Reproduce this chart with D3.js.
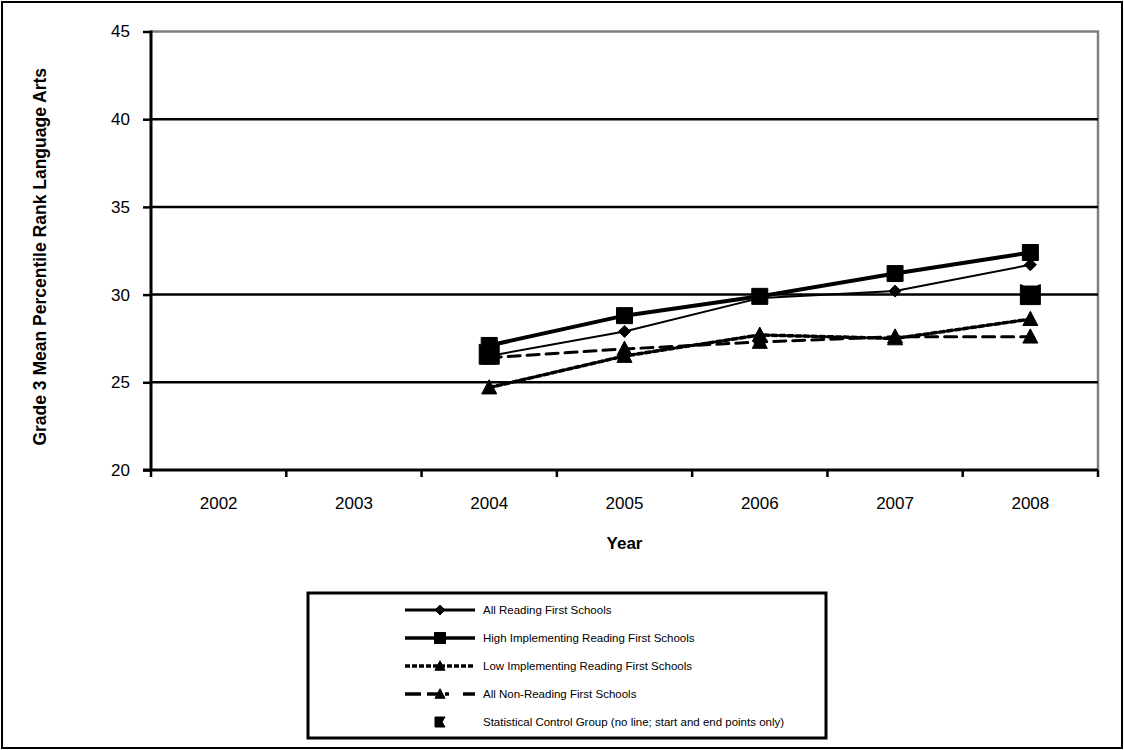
<!DOCTYPE html>
<html>
<head>
<meta charset="utf-8">
<script src="https://cdn.jsdelivr.net/npm/d3@7"></script>
<style>
  html, body { margin: 0; padding: 0; background: #fff; }
  svg { display: block; font-family: "Liberation Sans", Arial, sans-serif; }
</style>
</head>
<body>
<svg id="chart" width="1124" height="750"></svg>
<script>
// Years on the category axis
const years = ["2002", "2003", "2004", "2005", "2006", "2007", "2008"];
// Grade 3 mean percentile rank, language arts (null = no data)
const allRF     = [null, null, 26.5, 27.9, 29.8, 30.2, 31.7];
const highRF    = [null, null, 27.1, 28.8, 29.9, 31.2, 32.4];
const lowRF     = [null, null, 24.7, 26.5, 27.7, 27.5, 28.6];
const nonRF     = [null, null, 26.4, 26.9, 27.3, 27.6, 27.6];
const control   = [null, null, 26.6, null, null, null, 30.0];
const yTicks = [20, 25, 30, 35, 40, 45];

const seriesNames = [
  "All Reading First Schools",
  "High Implementing Reading First Schools",
  "Low Implementing Reading First Schools",
  "All Non-Reading First Schools",
  "Statistical Control Group (no line; start and end points only)"
];

const svg = d3.select("#chart");
const W = 1124, H = 750;
const plot = { left: 151, right: 1098, top: 31.5, bottom: 470 };

// outer frame
svg.append("rect").attr("x", 2).attr("y", 2).attr("width", W - 4).attr("height", H - 4)
  .attr("fill", "#fff").attr("stroke", "#000").attr("stroke-width", 2);

const x = d3.scaleBand().domain(years).range([plot.left, plot.right]).padding(0);
const y = d3.scaleLinear().domain([20, 45]).range([plot.bottom, plot.top]);
const cx = d => x(d) + x.bandwidth() / 2;

// plot area border (grey top/right)
svg.append("path")
  .attr("d", `M${plot.left},${plot.top}H${plot.right}V${plot.bottom}`)
  .attr("fill", "none").attr("stroke", "#808080").attr("stroke-width", 2.5);

// horizontal gridlines
svg.append("g").selectAll("line").data(yTicks.filter(t => t > 20 && t < 45)).join("line")
  .attr("x1", plot.left).attr("x2", plot.right)
  .attr("y1", d => y(d)).attr("y2", d => y(d))
  .attr("stroke", "#000").attr("stroke-width", 2.5);

// y axis
const yAxis = svg.append("g").attr("transform", `translate(${plot.left},0)`)
  .call(d3.axisLeft(y).tickValues(yTicks).tickSize(8).tickPadding(13).tickFormat(d3.format("d")));
yAxis.select(".domain").remove();
yAxis.selectAll(".tick line").attr("stroke", "#000").attr("stroke-width", 2.5);
yAxis.selectAll(".tick text").attr("font-size", 17).attr("fill", "#000")
  .attr("font-family", "Liberation Sans, Arial, sans-serif");
svg.append("line").attr("x1", plot.left).attr("x2", plot.left)
  .attr("y1", plot.top - 1).attr("y2", plot.bottom + 1)
  .attr("stroke", "#000").attr("stroke-width", 3);

// x axis: labels centred in bands, ticks on band boundaries
const xAxis = svg.append("g").attr("transform", `translate(0,${plot.bottom})`)
  .call(d3.axisBottom(x).tickSize(0).tickPadding(27));
xAxis.select(".domain").remove();
xAxis.selectAll(".tick text").attr("font-size", 17).attr("fill", "#000")
  .attr("font-family", "Liberation Sans, Arial, sans-serif");
const bounds = years.map(d => x(d)).concat([x.range()[1]]);
svg.append("g").selectAll("line").data(bounds).join("line")
  .attr("x1", d => d).attr("x2", d => d)
  .attr("y1", plot.bottom).attr("y2", plot.bottom + 7)
  .attr("stroke", "#000").attr("stroke-width", 2.5);
svg.append("line").attr("x1", plot.left - 8).attr("x2", plot.right)
  .attr("y1", plot.bottom).attr("y2", plot.bottom)
  .attr("stroke", "#000").attr("stroke-width", 3);

// axis titles
svg.append("text").attr("x", (plot.left + plot.right) / 2).attr("y", 549)
  .attr("text-anchor", "middle").attr("font-size", 17).attr("font-weight", "bold").text("Year");
svg.append("text").attr("transform", `translate(46,${(plot.top + plot.bottom) / 2 + 6}) rotate(-90)`)
  .attr("text-anchor", "middle").attr("font-size", 17.5).attr("font-weight", "bold")
  .text("Grade 3 Mean Percentile Rank Language Arts");

// marker shapes
function markerPath(kind, s) {
  const h = s / 2;
  if (kind === "diamond") return `M0,${-h}L${h},0L0,${h}L${-h},0Z`;
  if (kind === "square") return `M${-h},${-h}H${h}V${h}H${-h}Z`;
  if (kind === "triangle") return `M0,${-h * 1.05}L${h},${h * 0.85}L${-h},${h * 0.85}Z`;
  if (kind === "notched") {
    const n = s * 0.18;
    return `M${-h},${-h}L${-h + n},${-h + n * 0.4}L${h - n},${-h + n * 0.4}L${h},${-h}` +
      `L${h},${h}L${-h},${h}Z`;
  }
  if (kind === "notchedSide") {
    const n = s * 0.3;
    return `M${-h},${-h}H${h}L${h - n},0L${h},${h}H${-h}Z`;
  }
  return "";
}

const series = [
  { name: seriesNames[0], values: allRF,  width: 2,   dash: null,   marker: "diamond",  size: 12, line: true },
  { name: seriesNames[1], values: highRF, width: 4,   dash: null,   marker: "square",   size: 16, line: true },
  { name: seriesNames[2], values: lowRF,  width: 3.5, dash: "5,3",  marker: "triangle", size: 15, line: true },
  { name: seriesNames[3], values: nonRF,  width: 3,   dash: "12,7", marker: "triangle", size: 15, line: true },
  { name: seriesNames[4], values: control, width: 0,  dash: null,   marker: "notched",  size: 20, line: false }
];

const lineGen = d3.line()
  .defined(d => d.v !== null)
  .x(d => cx(d.year))
  .y(d => y(d.v));

const gSeries = svg.append("g");
series.forEach(s => {
  const pts = years.map((yr, i) => ({ year: yr, v: s.values[i] }));
  if (s.line) {
    gSeries.append("path").datum(pts)
      .attr("d", lineGen)
      .attr("fill", "none").attr("stroke", "#000")
      .attr("stroke-width", s.width)
      .attr("stroke-linejoin", "round")
      .attr("stroke-linecap", s.dash ? "round" : "butt")
      .attr("stroke-dasharray", s.dash);
  }
  gSeries.append("g").selectAll("path").data(pts.filter(p => p.v !== null)).join("path")
    .attr("transform", p => `translate(${cx(p.year)},${y(p.v)})`)
    .attr("d", markerPath(s.marker, s.size))
    .attr("fill", "#000").attr("stroke", "#000").attr("stroke-width", 1)
    .attr("stroke-linejoin", "round");
});

// legend
const lg = { x: 308, y: 593, w: 518, h: 145 };
svg.append("rect").attr("x", lg.x).attr("y", lg.y).attr("width", lg.w).attr("height", lg.h)
  .attr("fill", "#fff").attr("stroke", "#000").attr("stroke-width", 3);
const rowY = i => 610 + i * 28;
const legendLegs = [
  { dash: null, width: 3 },
  { dash: null, width: 3.5 },
  { dash: "5,2", width: 3.5 },
  { dash: "16,6,12,6,4,14", width: 3.5 }
];
series.forEach((s, i) => {
  const g = svg.append("g").attr("transform", `translate(0,${rowY(i)})`);
  if (s.line) {
    g.append("line").attr("x1", 405).attr("x2", 475).attr("y1", 0).attr("y2", 0)
      .attr("stroke", "#000").attr("stroke-width", legendLegs[i].width)
      .attr("stroke-dasharray", legendLegs[i].dash);
  }
  const kind = s.marker === "notched" ? "notchedSide" : s.marker;
  const ms = s.marker === "square" ? 11 : 10;
  g.append("path").attr("transform", "translate(440,0)")
    .attr("d", markerPath(kind, ms)).attr("fill", "#000").attr("stroke", "#000")
    .attr("stroke-width", 1).attr("stroke-linejoin", "round");
  g.append("text").attr("x", 483).attr("y", 4).attr("font-size", 11.5).attr("fill", "#000")
    .text(s.name);
});
</script>
</body>
</html>
